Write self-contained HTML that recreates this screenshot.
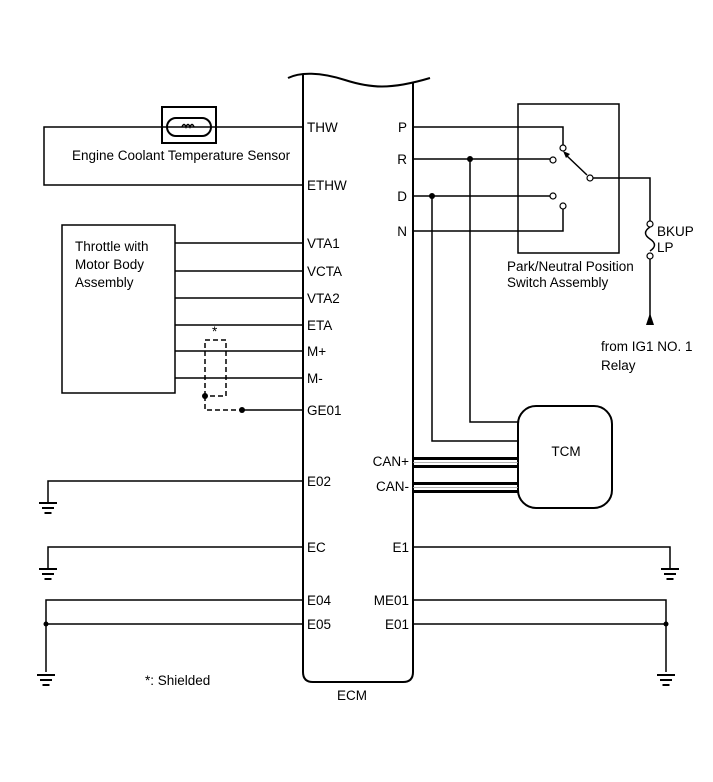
<!DOCTYPE html>
<html><head><style>body{margin:0;background:#fff}svg{display:block}text{font-family:"Liberation Sans",sans-serif;font-size:13.5px;fill:#000}</style></head><body>
<svg width="713" height="782" viewBox="0 0 713 782" xmlns="http://www.w3.org/2000/svg">
<defs>
<g id="gnd" stroke="#000" stroke-width="2"><line x1="-9" y1="0" x2="9" y2="0"/><line x1="-6" y1="5" x2="6" y2="5"/><line x1="-3.5" y1="10" x2="3.5" y2="10"/></g>
</defs>
<g fill="none" stroke="#000" stroke-width="1.5">
<path d="M288,78 C300,72 320,72 345,80 C370,88 390,90 430,78" stroke-width="2"/>
<path d="M303,75 L303,672 Q303,682 313,682 L403,682 Q413,682 413,672 L413,83" stroke-width="2"/>
<rect x="162" y="107" width="54" height="36" stroke-width="2"/>
<rect x="167" y="118" width="44" height="18" rx="9" stroke-width="2"/>
<path d="M182,127 q2,-5 4,0 q2,-5 4,0 q2,-5 4,0" />
<polyline points="303,127 44,127 44,185 303,185"/>
<rect x="62" y="225" width="113" height="168"/>
<line x1="175" y1="243" x2="303" y2="243"/>
<line x1="175" y1="271" x2="303" y2="271"/>
<line x1="175" y1="298" x2="303" y2="298"/>
<line x1="175" y1="325" x2="303" y2="325"/>
<line x1="175" y1="351" x2="303" y2="351"/>
<line x1="175" y1="378" x2="303" y2="378"/>
<path d="M205,396 L205,340 L226,340 L226,396 L205,396 M205,396 L205,410 L242,410" stroke-dasharray="5,3"/>
<line x1="242" y1="410" x2="303" y2="410"/>
<rect x="518" y="104" width="101" height="149"/>
<polyline points="413,127 563,127 563,145"/>
<line x1="413" y1="159" x2="550" y2="159"/>
<line x1="413" y1="196" x2="550" y2="196"/>
<polyline points="413,231 563,231 563,209"/>
<line x1="587" y1="175" x2="566" y2="155"/>
<polyline points="593,178 650,178 650,221"/>
<path d="M650,227 c-6,4 -6,8 0,12 c6,4 6,8 0,12"/>
<line x1="650" y1="259" x2="650" y2="325"/>
<polyline points="470,159 470,422 518,422"/>
<polyline points="432,196 432,441 518,441"/>
<rect x="518" y="406" width="94" height="102" rx="18" stroke-width="2"/>
<polyline points="303,481 48,481 48,503"/>
<polyline points="303,547 48,547 48,569"/>
<polyline points="413,547 670,547 670,569"/>
<polyline points="303,600 46,600 46,672"/>
<line x1="46" y1="624" x2="303" y2="624"/>
<polyline points="413,600 666,600 666,672"/>
<line x1="413" y1="624" x2="666" y2="624"/>
</g>
<g fill="#fff" stroke="#000" stroke-width="1.2">
<circle cx="563" cy="148" r="3"/><circle cx="553" cy="160" r="3"/><circle cx="590" cy="178" r="3"/>
<circle cx="553" cy="196" r="3"/><circle cx="563" cy="206" r="3"/>
<circle cx="650" cy="224" r="3"/><circle cx="650" cy="256" r="3"/>
</g>
<g fill="#000">
<path d="M563,151 l7,3 l-4,4 z"/>
<path d="M650,313 l-4,12 l8,0 z"/>
<circle cx="470" cy="159" r="3"/><circle cx="432" cy="196" r="3"/>
<circle cx="205" cy="396" r="3"/><circle cx="242" cy="410" r="3"/>
<circle cx="46" cy="624" r="2.5"/><circle cx="666" cy="624" r="2.5"/>
<rect x="413" y="457" width="105" height="3"/><rect x="413" y="465" width="105" height="3"/>
<rect x="413" y="482" width="105" height="3"/><rect x="413" y="490" width="105" height="3"/>
</g>
<g fill="none" stroke="#999" stroke-width="0.8">
<line x1="413" y1="462.5" x2="518" y2="462.5"/><line x1="413" y1="487.5" x2="518" y2="487.5"/>
</g>
<use href="#gnd" x="48" y="503"/><use href="#gnd" x="48" y="569"/><use href="#gnd" x="670" y="569"/>
<use href="#gnd" x="46" y="675"/><use href="#gnd" x="666" y="675"/>
<text x="72" y="160">Engine Coolant Temperature Sensor</text>
<text x="75" y="251">Throttle with</text><text x="75" y="269">Motor Body</text><text x="75" y="287">Assembly</text>
<text x="212" y="336" font-size="10">*</text>
<text x="307" y="132">THW</text><text x="307" y="190">ETHW</text>
<text x="307" y="248">VTA1</text><text x="307" y="276">VCTA</text><text x="307" y="303">VTA2</text>
<text x="307" y="330">ETA</text><text x="307" y="356">M+</text><text x="307" y="383">M-</text>
<text x="307" y="415">GE01</text><text x="307" y="486">E02</text><text x="307" y="552">EC</text>
<text x="307" y="605">E04</text><text x="307" y="629">E05</text>
<text x="407" y="132" text-anchor="end">P</text><text x="407" y="164" text-anchor="end">R</text>
<text x="407" y="201" text-anchor="end">D</text><text x="407" y="236" text-anchor="end">N</text>
<text x="409" y="466" text-anchor="end">CAN+</text><text x="409" y="491" text-anchor="end">CAN-</text>
<text x="409" y="552" text-anchor="end">E1</text><text x="409" y="605" text-anchor="end">ME01</text>
<text x="409" y="629" text-anchor="end">E01</text>
<text x="566" y="456" text-anchor="middle">TCM</text>
<text x="507" y="271">Park/Neutral Position</text><text x="507" y="287">Switch Assembly</text>
<text x="657" y="236">BKUP</text><text x="657" y="252">LP</text>
<text x="601" y="351">from IG1 NO. 1</text><text x="601" y="370">Relay</text>
<text x="145" y="685">*: Shielded</text>
<text x="352" y="700" text-anchor="middle">ECM</text>
</svg>
</body></html>
